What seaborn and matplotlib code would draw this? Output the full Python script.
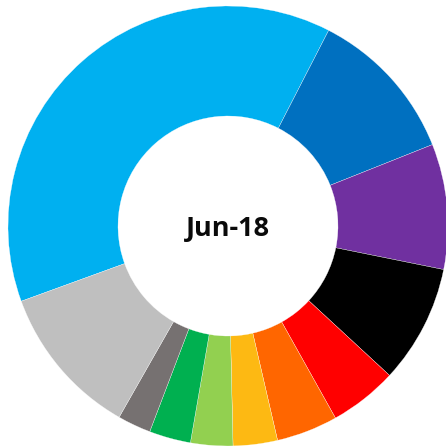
import matplotlib
matplotlib.use("Agg")
import matplotlib.pyplot as plt
import seaborn as sns

# slice shares in percent, clockwise starting from the big light blue one
categories = ["A", "B", "C", "D", "E", "F", "G", "H", "I", "J", "K"]
shares = [38.1, 11.4, 9.2, 8.7, 5.0, 4.5, 3.25, 3.1, 3.05, 2.45, 11.2]
hex_colors = ["#00B0F0", "#0070C0", "#7030A0", "#000000", "#FF0000", "#FF6600",
              "#FDB913", "#92D050", "#00B050", "#767171", "#BFBFBF"]
center_label = "Jun-18"

sns.set_style("white")
plt.rcParams["font.family"] = ["Open Sans", "DejaVu Sans"]
palette = sns.color_palette(hex_colors)

fig = plt.figure(figsize=(4.46, 4.46), dpi=100)
ax = fig.add_axes([0, 0, 1, 1])
ax.pie(shares, colors=palette, startangle=-160, counterclock=False, radius=1.0,
       wedgeprops=dict(width=0.5, edgecolor="white", linewidth=0.2))
ax.text(0, -0.015, center_label, ha="center", va="center", fontsize=19.5,
        fontweight="bold", color="#0a0a0a")

# circle is a bit off-centre in the reference and clipped at the bottom/right
ax.set_xlim(-228 / 220, 218 / 220)
ax.set_ylim(-220 / 220, 226 / 220)
ax.set_aspect("equal")
ax.axis("off")

fig.savefig("out.png", dpi=100, facecolor="white")
